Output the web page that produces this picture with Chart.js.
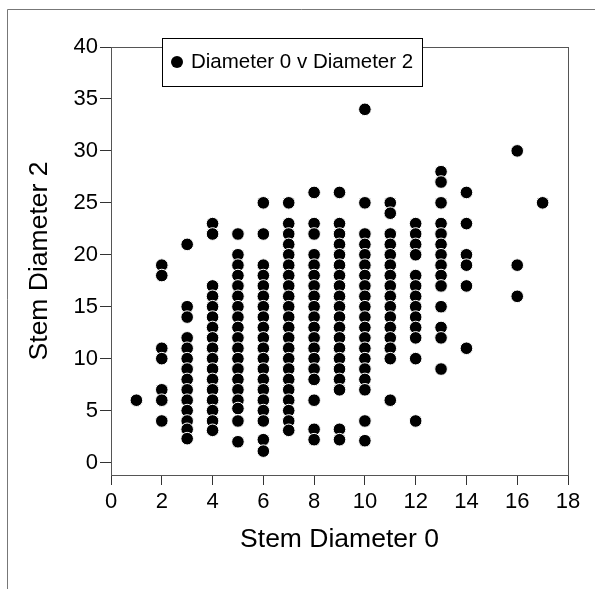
<!DOCTYPE html>
<html>
<head>
<meta charset="utf-8">
<script src="https://cdn.jsdelivr.net/npm/chart.js@4"></script>
<style>
  body { margin: 0; background: #fff; }
  canvas { display: block; }
</style>
</head>
<body>
<canvas id="scatterChart" width="595" height="589"></canvas>
<script>
// Stem Diameter 0 values (x) and the Diameter 2 readings found at each one (y)
const stem0 = [1, 2, 3, 4, 5, 6, 7, 8, 9, 10, 11, 12, 13, 14, 16, 17];
const stem2 = [
  [6],
  [19, 18, 11, 10, 7, 6, 4],
  [21, 15, 14, 12, 11, 10, 9, 8, 7, 6, 5, 4, 3.2, 2.3],
  [23, 22, 17, 16, 15, 14, 13, 12, 11, 10, 9, 8, 7, 6, 5, 4, 3.1],
  [22, 20, 19, 18, 17, 16, 15, 14, 13, 12, 11, 10, 9, 8, 7, 6, 5.2, 4, 2],
  [25, 22, 19, 18, 17, 16, 15, 14, 13, 12, 11, 10, 9, 8, 7, 6, 5, 4, 2.2, 1.1],
  [25, 23, 22, 21, 20, 19, 18, 17, 16, 15, 14, 13, 12, 11, 10, 9, 8, 7, 6, 5, 4, 3.1],
  [26, 23, 22, 20, 19, 18, 17, 16, 15, 14, 13, 12, 11, 10, 9, 8, 6, 3.2, 2.2],
  [26, 23, 22, 21, 20, 19, 18, 17, 16, 15, 14, 13, 12, 11, 10, 9, 8, 7, 3.2, 2.2],
  [34, 25, 22, 21, 20, 19, 18, 17, 16, 15, 14, 13, 12, 11, 10, 9, 8, 7, 4, 2.1],
  [25, 24, 22, 21, 20, 19, 18, 17, 16, 15, 14, 13, 12, 11, 10, 6],
  [23, 22, 21, 20, 18, 17, 16, 15, 14, 13, 12, 10, 4],
  [28, 27, 25, 23, 22, 21, 20, 19, 18, 17, 15, 13, 12, 9],
  [26, 23, 20, 19, 17, 11],
  [30, 19, 16],
  [25],
];
const seriesLabel = "Diameter 0 v Diameter 2";
const xTitle = "Stem Diameter 0";
const yTitle = "Stem Diameter 2";

const points = stem0.flatMap((x, i) => stem2[i].map((y) => ({ x: x, y: y })));

const FONT = "'Liberation Sans', Arial, Helvetica, sans-serif";

// gray frame round the page and round the plot
const framePlugin = {
  id: "frames",
  beforeDraw(chart) {
    const ctx = chart.ctx;
    ctx.save();
    ctx.strokeStyle = "#777";
    ctx.lineWidth = 1;
    ctx.beginPath();
    ctx.moveTo(7.5, 589);
    ctx.lineTo(7.5, 9.5);
    ctx.lineTo(595, 9.5);
    ctx.stroke();
    ctx.restore();
  },
  beforeDatasetsDraw(chart) {
    const { left, top, right, bottom } = chart.chartArea;
    const ctx = chart.ctx;
    ctx.save();
    ctx.strokeStyle = "#555";
    ctx.lineWidth = 1;
    ctx.strokeRect(Math.round(left) + 0.5, Math.round(top) + 0.5,
      Math.round(right - left), Math.round(bottom - top));
    ctx.restore();
  },
};

// boxed legend sitting over the top edge of the plot
const boxLegend = {
  id: "boxLegend",
  afterDraw(chart) {
    const ds = chart.data.datasets[0];
    const ctx = chart.ctx;
    ctx.save();
    ctx.fillStyle = "#fff";
    ctx.fillRect(162, 38, 260, 48);
    ctx.strokeStyle = "#000";
    ctx.lineWidth = 1;
    ctx.strokeRect(162.5, 38.5, 260, 48);
    ctx.fillStyle = ds.backgroundColor;
    ctx.beginPath();
    ctx.arc(177, 62, 6, 0, Math.PI * 2);
    ctx.fill();
    ctx.fillStyle = "#000";
    ctx.font = "20.5px " + FONT;
    ctx.textBaseline = "middle";
    ctx.fillText(ds.label, 191, 62);
    ctx.restore();
  },
};

const ctx = document.getElementById("scatterChart").getContext("2d");
new Chart(ctx, {
  type: "scatter",
  data: {
    datasets: [
      {
        label: seriesLabel,
        data: points,
        backgroundColor: "#000",
        borderColor: "#fff",
        borderWidth: 1,
        pointRadius: 6.3,
        pointHoverRadius: 6.3,
      },
    ],
  },
  options: {
    responsive: false,
    animation: false,
    layout: { padding: { top: 47, right: 27, left: 0, bottom: 0 } },
    plugins: {
      legend: { display: false },
      tooltip: { enabled: false },
    },
    scales: {
      x: {
        type: "linear",
        min: 0,
        max: 18,
        border: { display: false },
        grid: { drawOnChartArea: false, tickLength: 10, tickColor: "#333" },
        ticks: { stepSize: 2, color: "#000", padding: 4, font: { family: FONT, size: 22 } },
        title: {
          display: true,
          text: xTitle,
          color: "#000",
          font: { family: FONT, size: 26.5 },
          padding: { top: 0, bottom: 33 },
        },
        afterFit(scale) {
          scale.height = 114;
        },
      },
      y: {
        type: "linear",
        min: -1.2,
        max: 40,
        border: { display: false },
        grid: { drawOnChartArea: false, tickLength: 11, tickColor: "#333" },
        ticks: {
          stepSize: 5,
          includeBounds: false,
          color: "#000",
          padding: 2,
          font: { family: FONT, size: 22 },
        },
        title: {
          display: true,
          text: yTitle,
          color: "#000",
          font: { family: FONT, size: 26.5 },
          padding: { top: 24, bottom: 0 },
        },
        afterFit(scale) {
          scale.width = 111;
        },
      },
    },
  },
  plugins: [framePlugin, boxLegend],
});
</script>
</body>
</html>
